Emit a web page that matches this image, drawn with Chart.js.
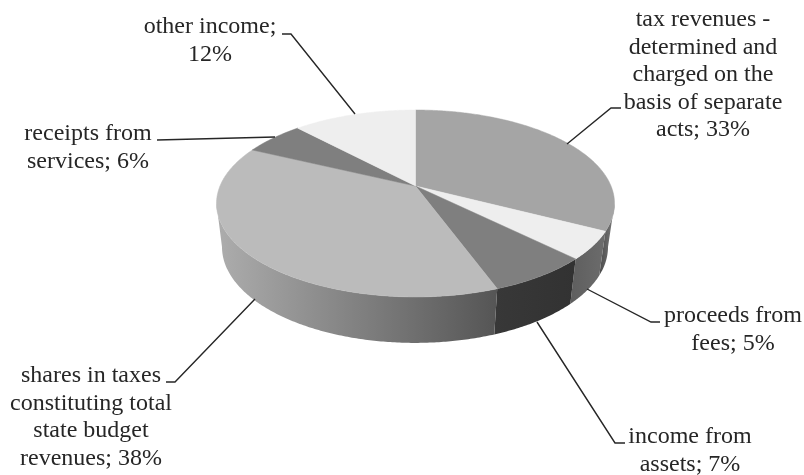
<!DOCTYPE html>
<html lang="en">
<head>
  <meta charset="UTF-8" />
  <title>Budget income structure</title>
  <script src="https://cdn.jsdelivr.net/npm/chart.js"></script>
  <style>
    body { margin: 0; background: #fff; }
    canvas { display: block; }
  </style>
</head>
<body>
  <canvas id="grafica" width="804" height="475"></canvas>

  <script>
    const categories = [
      'tax revenues - determined and charged on the basis of separate acts',
      'proceeds from fees',
      'income from assets',
      'shares in taxes constituting total state budget revenues',
      'receipts from services',
      'other income'
    ];
    const shares = [32.6, 4.8, 7, 37.7, 5.9, 12];
    const wrappedLabels = [
      ['tax revenues -', 'determined and', 'charged on the', 'basis of separate', 'acts; 33%'],
      ['proceeds from', 'fees; 5%'],
      ['income from', 'assets; 7%'],
      ['shares in taxes', 'constituting total', 'state budget', 'revenues; 38%'],
      ['receipts from', 'services; 6%'],
      ['other income;', '12%']
    ];
    const topColors = ['#a5a5a5', '#eeeeee', '#7f7f7f', '#bbbbbb', '#7f7f7f', '#eeeeee'];
    const wallColors = [
      ['#4a4a4a', '#7c7c7c'],
      ['#5e5e5e', '#6c6c6c'],
      ['#383838', '#323232'],
      ['#adadad', '#555555'],
      ['#555555', '#555555'],
      ['#555555', '#555555']
    ];

    // where each label block sits: centre x, first baseline
    const labelPos = [[703, 26], [733, 322], [690, 443], [91, 382], [88, 140], [210, 33]];
    const leaderLines = [
      [[567, 144], [611, 108], [621, 108]],
      [[587, 289], [651, 322], [660, 322]],
      [[537, 322], [615, 443], [625, 443]],
      [[255, 299], [175, 382], [166, 382]],
      [[275, 137], [157, 140]],
      [[355, 114], [291, 34], [282, 34]]
    ];

    // perspective of the pie: top face and bottom face
    const topFace = { cx: 415.5, cy: 186, a: 195.5, b: 90.2, k: 0.187 };
    const bottomFace = { cx: 415, cy: 229, a: 189.6, b: 92.6, k: 0.187 };
    const edgeAngle = Math.asin(topFace.k); // left and right limit of the visible wall

    function project(face, angle) {
      const u = Math.cos(angle);
      const v = Math.sin(angle);
      const w = 1 - face.k * v;
      return { x: face.cx + face.a * u / w, y: face.cy + face.b * v / w };
    }

    function rimPoints(face, from, to) {
      const pts = [];
      const steps = Math.max(2, Math.ceil(Math.abs(to - from) / 0.01));
      for (let i = 0; i <= steps; i++) {
        pts.push(project(face, from + (to - from) * i / steps));
      }
      return pts;
    }

    function drawWall(ctx, arc, colors) {
      // only the front of the pie shows a wall
      const from = Math.max(arc.startAngle, edgeAngle);
      const to = Math.min(arc.endAngle, Math.PI - edgeAngle);
      if (to <= from) return;
      const upper = rimPoints(topFace, from, to);
      const lower = rimPoints(bottomFace, from, to);
      const xs = upper.concat(lower).map(p => p.x);
      const grad = ctx.createLinearGradient(Math.min(...xs), 0, Math.max(...xs), 0);
      grad.addColorStop(0, colors[0]);
      grad.addColorStop(1, colors[1]);
      ctx.beginPath();
      upper.forEach((p, i) => i ? ctx.lineTo(p.x, p.y) : ctx.moveTo(p.x, p.y));
      lower.reverse().forEach(p => ctx.lineTo(p.x, p.y));
      ctx.closePath();
      ctx.fillStyle = grad;
      ctx.fill();
    }

    function drawTop(ctx, arc, color) {
      const rim = rimPoints(topFace, arc.startAngle, arc.endAngle);
      ctx.beginPath();
      ctx.moveTo(topFace.cx, topFace.cy);
      rim.forEach(p => ctx.lineTo(p.x, p.y));
      ctx.closePath();
      ctx.fillStyle = color;
      ctx.strokeStyle = color;
      ctx.lineWidth = 0.5;
      ctx.fill();
      ctx.stroke();
    }

    const pie3d = {
      id: 'pie3d',
      beforeDatasetDraw(chart) {
        const ctx = chart.ctx;
        const arcs = chart.getDatasetMeta(0).data;
        ctx.save();
        arcs.forEach((arc, i) => drawWall(ctx, arc, wallColors[i]));
        arcs.forEach((arc, i) => drawTop(ctx, arc, topColors[i]));
        ctx.restore();
        return false;
      },
      afterDraw(chart) {
        const ctx = chart.ctx;
        ctx.save();
        ctx.strokeStyle = '#262626';
        ctx.lineWidth = 1.4;
        leaderLines.forEach(line => {
          ctx.beginPath();
          line.forEach((p, i) => i ? ctx.lineTo(p[0], p[1]) : ctx.moveTo(p[0], p[1]));
          ctx.stroke();
        });
        ctx.fillStyle = '#262626';
        ctx.font = '24px "Liberation Serif"';
        ctx.textAlign = 'center';
        ctx.textBaseline = 'alphabetic';
        wrappedLabels.forEach((lines, i) => {
          lines.forEach((text, j) => {
            ctx.fillText(text, labelPos[i][0], labelPos[i][1] + j * 27.6);
          });
        });
        ctx.restore();
      }
    };

    new Chart(document.getElementById('grafica').getContext('2d'), {
      type: 'pie',
      data: {
        labels: categories,
        datasets: [{ data: shares, backgroundColor: topColors, borderWidth: 0 }]
      },
      options: {
        responsive: false,
        animation: false,
        plugins: { legend: { display: false }, tooltip: { enabled: false } }
      },
      plugins: [pie3d]
    });
  </script>
</body>
</html>
